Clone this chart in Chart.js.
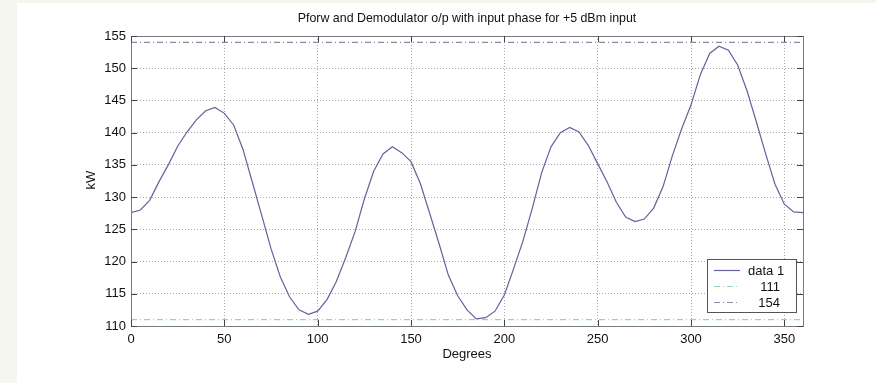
<!DOCTYPE html>
<html>
<head>
<meta charset="utf-8">
<script src="https://cdn.jsdelivr.net/npm/chart.js@4/dist/chart.umd.min.js"></script>
<style>
    html, body { margin: 0; padding: 0; background: #f5f7ee; }
    #wrap { position: absolute; left: 17px; top: 3px; width: 859px; height: 380px; background: #fff; }
    #chart { display: block; }
</style>
</head>
<body>
<div id="wrap"><canvas id="chart" width="859" height="380"></canvas></div>
<script>
// phase sweep (degrees) and measured forward power (kW)
const degrees = [0, 5, 10, 15, 20, 25, 30, 35, 40, 45, 50, 55, 60, 65, 70, 75, 80, 85, 90, 95,
    100, 105, 110, 115, 120, 125, 130, 135, 140, 145, 150, 155, 160, 165, 170, 175, 180, 185, 190, 195,
    200, 205, 210, 215, 220, 225, 230, 235, 240, 245, 250, 255, 260, 265, 270, 275, 280, 285, 290, 295,
    300, 305, 310, 315, 320, 325, 330, 335, 340, 345, 350, 355, 360];
const kw = [127.6, 128.0, 129.5, 132.4, 135.0, 137.9, 140.1, 142.0, 143.4, 143.9, 143.0, 141.2, 137.4, 132.3, 127.2, 122.0, 117.6, 114.5, 112.5, 111.8,
    112.3, 114.1, 116.9, 120.6, 124.6, 129.7, 134.0, 136.7, 137.8, 136.9, 135.5, 132.1, 127.5, 122.8, 117.9, 114.7, 112.5, 111.1, 111.3, 112.3,
    114.8, 118.9, 123.2, 128.3, 133.8, 137.8, 140.0, 140.8, 140.1, 138.0, 135.2, 132.4, 129.2, 126.9, 126.2, 126.6, 128.3, 131.6, 136.4, 140.6,
    144.3, 149.0, 152.3, 153.4, 152.8, 150.5, 146.5, 141.7, 136.7, 132.0, 128.9, 127.7, 127.6];

// reference levels
const lowLevel = 111;
const highLevel = 154;
const levelLabels = ['111', '154'];

const xTicks = [0, 50, 100, 150, 200, 250, 300, 350];
const yTicks = [110, 115, 120, 125, 130, 135, 140, 145, 150, 155];

const FONT = 'Liberation Sans, Arial, Helvetica, sans-serif';

const points = degrees.map((d, i) => ({x: d, y: kw[i]}));
const span = v => [{x: 0, y: v}, {x: 360, y: v}];

// title, axis labels, inward tick marks, box and legend
const matlabLook = {
    id: 'matlabLook',
    afterDatasetsDraw(chart) {
        const {ctx, chartArea: a, scales} = chart;
        ctx.save();

        // axes box
        ctx.strokeStyle = '#7a7a7a';
        ctx.lineWidth = 1;
        ctx.setLineDash([]);
        ctx.strokeRect(a.left + 0.5, a.top + 0.5, a.right - a.left, a.bottom - a.top);

        // ticks pointing into the plot
        ctx.strokeStyle = '#444';
        ctx.beginPath();
        for (const t of xTicks) {
            const x = Math.round(scales.x.getPixelForValue(t)) + 0.5;
            ctx.moveTo(x, a.bottom); ctx.lineTo(x, a.bottom - 6);
            ctx.moveTo(x, a.top); ctx.lineTo(x, a.top + 6);
        }
        for (const t of yTicks) {
            const y = Math.round(scales.y.getPixelForValue(t)) + 0.5;
            ctx.moveTo(a.left, y); ctx.lineTo(a.left + 6, y);
            ctx.moveTo(a.right, y); ctx.lineTo(a.right - 6, y);
        }
        ctx.stroke();

        // text
        const cx = (a.left + a.right) / 2;
        ctx.fillStyle = '#111';
        ctx.textAlign = 'center';
        ctx.textBaseline = 'middle';
        ctx.font = '12.4px ' + FONT;
        ctx.fillText('Pforw and Demodulator o/p with input phase for +5 dBm input', cx, 16);
        ctx.font = '13px ' + FONT;
        ctx.fillText('Degrees', cx, 351);
        ctx.save();
        ctx.translate(74, 177);
        ctx.rotate(-Math.PI / 2);
        ctx.fillText('kW', 0, 0);
        ctx.restore();

        // legend box
        const lw = 89, lh = 53;
        const lx = a.right - 7 - lw, ly = a.bottom - 14 - lh;
        ctx.fillStyle = '#fff';
        ctx.fillRect(lx, ly, lw, lh);
        ctx.strokeStyle = '#555';
        ctx.strokeRect(lx + 0.5, ly + 0.5, lw, lh);
        ctx.font = '13px ' + FONT;
        chart.data.datasets.forEach((ds, i) => {
            const y = ly + 11 + i * 16;
            ctx.strokeStyle = ds.borderColor;
            ctx.lineWidth = ds.borderWidth;
            ctx.setLineDash(ds.borderDash || []);
            ctx.beginPath();
            ctx.moveTo(lx + 7, y + 0.5); ctx.lineTo(lx + 33, y + 0.5);
            ctx.stroke();
            ctx.setLineDash([]);
            ctx.fillStyle = '#111';
            if (i === 0) {
                ctx.textAlign = 'left';
                ctx.fillText(ds.label, lx + 41, y + 1);
            } else {
                ctx.textAlign = 'right';
                ctx.fillText(ds.label, lx + 73, y + 1);
            }
        });
        ctx.restore();
    }
};

new Chart(document.getElementById('chart'), {
    type: 'line',
    data: {
        datasets: [{
            label: 'data 1',
            data: points,
            borderColor: '#62629c',
            borderWidth: 1.2,
            pointRadius: 0,
            tension: 0
        }, {
            label: levelLabels[0],
            data: span(lowLevel),
            borderColor: '#8ed2d6',
            borderWidth: 1.2,
            borderDash: [6, 3, 1, 3],
            pointRadius: 0
        }, {
            label: levelLabels[1],
            data: span(highLevel),
            borderColor: '#8a8aa6',
            borderWidth: 1.2,
            borderDash: [6, 3, 1, 3],
            pointRadius: 0
        }]
    },
    options: {
        responsive: false,
        animation: false,
        layout: {padding: {left: 0, top: 33, right: 73, bottom: 0}},
        plugins: {legend: {display: false}, tooltip: {enabled: false}, title: {display: false}},
        scales: {
            x: {
                type: 'linear',
                min: 0,
                max: 360,
                afterFit: s => { s.height = 57; },
                afterBuildTicks: s => { s.ticks = xTicks.map(v => ({value: v})); },
                ticks: {color: '#111', font: {family: FONT, size: 13}, padding: 6, maxRotation: 0},
                grid: {color: '#aaaaaa', drawTicks: false, lineWidth: 1},
                border: {display: false, dash: [1, 2]}
            },
            y: {
                min: 110,
                max: 155,
                afterFit: s => { s.width = 114; },
                afterBuildTicks: s => { s.ticks = yTicks.map(v => ({value: v})); },
                ticks: {color: '#111', font: {family: FONT, size: 13}, padding: 5},
                grid: {color: '#aaaaaa', drawTicks: false, lineWidth: 1},
                border: {display: false, dash: [1, 2]}
            }
        }
    },
    plugins: [matlabLook]
});
</script>
</body>
</html>
